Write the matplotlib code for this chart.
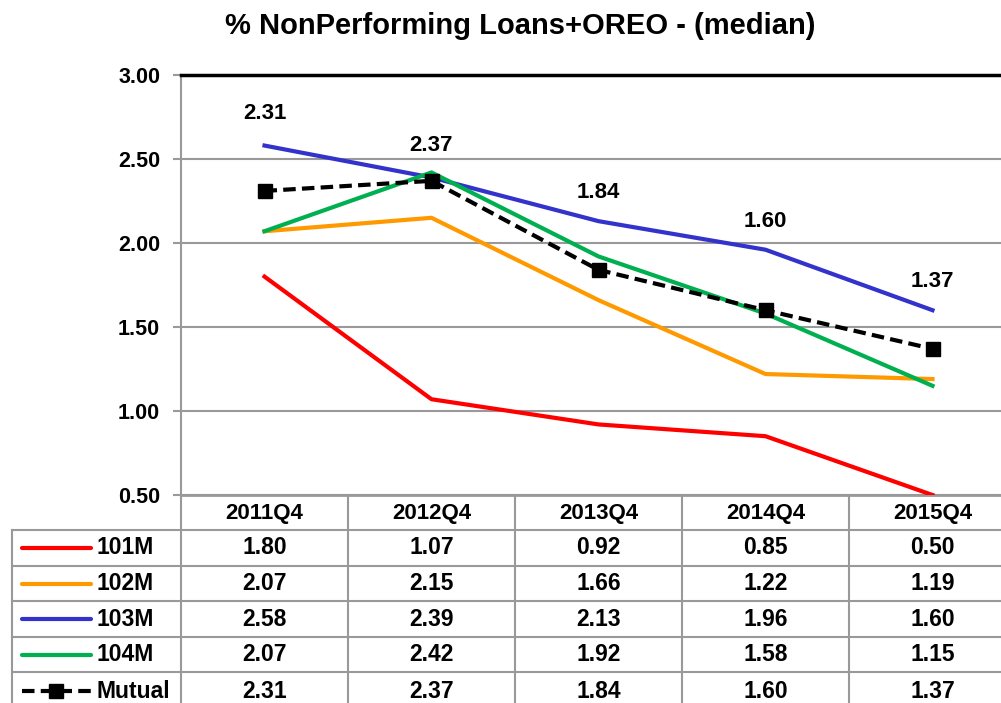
import matplotlib.pyplot as plt
import matplotlib.transforms as mtrans
from matplotlib.lines import Line2D

plt.rcParams['font.family'] = ['Liberation Sans', 'DejaVu Sans']
plt.rcParams['font.weight'] = 'bold'

quarters = ['2011Q4', '2012Q4', '2013Q4', '2014Q4', '2015Q4']
s101 = [1.80, 1.07, 0.92, 0.85, 0.50]
s102 = [2.07, 2.15, 1.66, 1.22, 1.19]
s103 = [2.58, 2.39, 2.13, 1.96, 1.60]
s104 = [2.07, 2.42, 1.92, 1.58, 1.15]
mutual = [2.31, 2.37, 1.84, 1.60, 1.37]
names = ['101M', '102M', '103M', '104M', 'Mutual']

# height where the value labels of Mutual sit (data units)
label_y = [2.77, 2.58, 2.30, 2.13, 1.77]

W, H = 1001, 703
fig = plt.figure(figsize=(W / 100, H / 100), dpi=100)

def fy(y):
    return 1 - y / H

# axes spans 5 columns of 167 px, starting at x=181
ax = fig.add_axes([181 / W, fy(495), 835 / W, 420 / H])
x = list(range(len(quarters)))

ax.plot(x, s101, color='#FF0000', lw=3, zorder=3)
ax.plot(x, s102, color='#FF9900', lw=3, zorder=3)
ax.plot(x, s103, color='#3333CC', lw=3, zorder=3)
ax.plot(x, s104, color='#00B050', lw=3, zorder=3)
ax.plot(x, mutual, color='black', lw=3, ls=(0, (3, 1.5)), marker='s', ms=10, zorder=4)

for i, v in enumerate(mutual):
    ax.text(i, label_y[i], '%.2f' % v, ha='center', va='center', fontsize=16, fontweight='bold')

ax.set_xlim(-0.5, 4.5)
ax.set_ylim(0.5, 3.0)
ax.set_yticks([0.5, 1.0, 1.5, 2.0, 2.5, 3.0])
ax.set_yticklabels(['%.2f' % t for t in ax.get_yticks()], fontsize=15.5, fontweight='bold')
ax.set_xticks([])
ax.yaxis.grid(True, color='#999999', lw=1.5)
ax.set_axisbelow(True)
ax.tick_params(axis='y', length=6, color='#999999', width=1.5, pad=9)
ax.spines['top'].set_color('black')
ax.spines['top'].set_linewidth(2.5)
ax.spines['left'].set_color('#999999')
ax.spines['left'].set_linewidth(1.5)
ax.spines['bottom'].set_color('#999999')
ax.spines['bottom'].set_linewidth(2)
ax.spines['right'].set_visible(False)

fig.text(520 / W, fy(26), '% NonPerforming Loans+OREO - (median)', ha='center', va='center',
         fontsize=21, fontweight='bold')

# data table below the axes
bt = mtrans.blended_transform_factory(ax.transData, fig.transFigure)
grid_c = '#999999'
row_edges = [496, 530, 566, 601, 637, 672, 710]
col_edges = [-0.5, 0.5, 1.5, 2.5, 3.5, 4.5]

for ce in col_edges:
    fig.add_artist(Line2D([ce, ce], [fy(496), fy(710)], transform=bt, color=grid_c, lw=1.5))
for re in row_edges[1:]:
    fig.add_artist(Line2D([12 / W, 1], [fy(re), fy(re)], transform=fig.transFigure, color=grid_c, lw=1.5))
fig.add_artist(Line2D([12 / W, 12 / W], [fy(530), fy(710)], transform=fig.transFigure, color=grid_c, lw=1.5))

for j, q in enumerate(quarters):
    fig.text(j, fy((row_edges[0] + row_edges[1]) / 2), q, transform=bt, ha='center', va='center',
             fontsize=16, fontweight='bold')

series = [s101, s102, s103, s104, mutual]
colors = ['#FF0000', '#FF9900', '#3333CC', '#00B050', 'black']
for r, (nm, s, c) in enumerate(zip(names, series, colors)):
    yc = fy((row_edges[r + 1] + row_edges[r + 2]) / 2)
    if nm == 'Mutual':
        fig.add_artist(Line2D([22 / W, 91 / W], [yc, yc], transform=fig.transFigure, color=c, lw=3,
                              ls=(0, (3, 1.5))))
        fig.add_artist(Line2D([56 / W], [yc], transform=fig.transFigure, color=c, marker='s', ms=10))
    else:
        fig.add_artist(Line2D([22 / W, 91 / W], [yc, yc], transform=fig.transFigure, color=c, lw=3,
                              solid_capstyle='round'))
    fig.text(97 / W, yc, nm, ha='left', va='center', fontsize=16.5, fontweight='bold')
    for j, v in enumerate(s):
        fig.text(j, yc, '%.2f' % v, transform=bt, ha='center', va='center', fontsize=16.5, fontweight='bold')

fig.savefig('out.png', dpi=100)
